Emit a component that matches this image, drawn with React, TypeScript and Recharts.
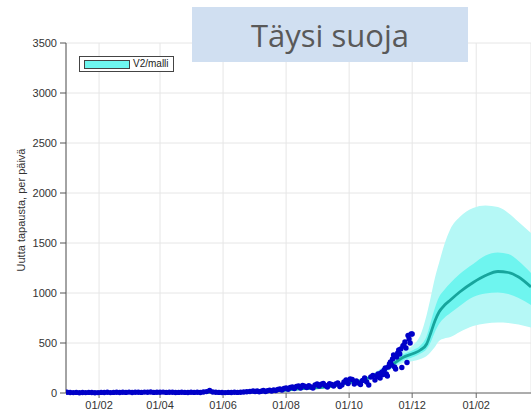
import React from 'react';
import { ComposedChart, Area, Line, Scatter, XAxis, YAxis, CartesianGrid, Label } from 'recharts';

const tickDays = [31, 90, 151, 212, 273, 334, 396];
const tickLabels = ['01/02', '01/04', '01/06', '01/08', '01/10', '01/12', '01/02'];
const yTicks = [0, 500, 1000, 1500, 2000, 2500, 3000, 3500];

const modelDays = [-1, 0, 30, 60, 90, 120, 150, 180, 196, 213, 229, 245, 261, 274, 287, 300, 313, 325, 335, 342, 348, 352, 356, 360, 365, 371, 380, 393, 405, 417, 427, 437, 449];
const modelMedian = [3, 3, 3, 4, 5, 6, 7, 10, 17, 30, 43, 53, 77, 105, 130, 190, 270, 355, 395, 430, 490, 600, 720, 810, 875, 930, 1010, 1105, 1175, 1215, 1205, 1160, 1060];
const outerLow = [3, 3, 3, 4, 5, 6, 7, 10, 16, 29, 41, 50, 72, 95, 115, 165, 235, 300, 320, 340, 370, 410, 460, 520, 545, 560, 610, 670, 695, 705, 700, 685, 655];
const outerHigh = [3, 3, 3, 4, 5, 6, 7, 10, 18, 31, 45, 56, 82, 118, 150, 220, 315, 420, 480, 580, 780, 960, 1150, 1300, 1480, 1640, 1760, 1850, 1875, 1860, 1800, 1710, 1600];
const innerLow = [3, 3, 3, 4, 5, 6, 7, 10, 17, 30, 42, 52, 75, 100, 122, 178, 250, 325, 360, 395, 440, 510, 610, 690, 750, 800, 870, 960, 995, 1005, 990, 950, 880];
const innerHigh = [3, 3, 3, 4, 5, 6, 7, 10, 17, 30, 44, 54, 79, 112, 140, 205, 292, 385, 430, 475, 570, 710, 850, 960, 1030, 1100, 1190, 1290, 1375, 1405, 1390, 1320, 1200];

const dotDays = [0, 3, 6, 9, 12, 15, 18, 21, 24, 27, 30, 33, 36, 39, 42, 45, 48, 51, 54, 57, 60, 63, 66, 69, 72, 75, 78, 81, 84, 87, 90, 93, 96, 99, 102, 105, 108, 111, 114, 117, 120, 123, 126, 129, 132, 135, 138, 141, 144, 147, 150, 153, 156, 159, 162, 165, 168, 171, 174, 177, 180,
  182, 184, 186, 188, 190, 192, 194, 196, 198, 200, 202, 204, 206, 208, 210, 212, 214, 216, 218, 220, 222, 224, 226, 228, 230, 232, 234, 236, 238, 240, 242, 244, 246, 248, 250, 252, 254, 256, 258, 260, 262, 264, 266, 268, 270, 272, 274, 276, 278, 280, 282, 284, 286, 288, 290, 292, 294, 296, 298,
  300, 301, 302, 303, 304, 305, 306, 307, 308, 309, 310, 311, 312, 313, 314, 315, 316, 317, 318, 319, 320, 321, 322, 323, 324, 325, 326, 327, 328, 329, 330, 331, 332, 333, 334];
const dotCases = [8, 5, 4, 6, 3, 5, 4, 6, 5, 3, 4, 6, 5, 7, 4, 6, 8, 5, 7, 6, 9, 5, 7, 8, 6, 9, 7, 10, 6, 8, 7, 9, 6, 8, 7, 5, 6, 8, 6, 5, 7, 6, 8, 5, 10, 14, 25, 10, 7, 6, 5, 4, 6, 5, 7, 6, 8, 10, 12, 15, 20,
  15, 20, 12, 18, 25, 15, 22, 28, 20, 30, 25, 35, 40, 30, 45, 50, 38, 55, 60, 45, 65, 70, 50, 75, 68, 55, 72, 60, 50, 80, 90, 70, 88, 95, 75, 60, 92, 85, 70, 90, 100, 65, 80, 110, 130, 95, 140, 135, 90, 120, 100, 85, 125, 150, 110, 80, 160, 175, 130,
  170, 190, 160, 150, 200, 210, 185, 230, 250, 190, 170, 260, 290, 310, 280, 340, 380, 260, 240, 360, 400, 430, 390, 440, 255, 470, 480, 510, 450, 305, 575, 540, 500, 590, 590];

const modelData = modelDays.map((d, i) => ({
  day: d,
  median: modelMedian[i],
  outer: [outerLow[i], outerHigh[i]],
  inner: [innerLow[i], innerHigh[i]],
}));
const dotData = dotDays.map((d, i) => ({ day: d, cases: dotCases[i] }));

const fmtX = (v: number) => {
  const i = tickDays.indexOf(v);
  return i >= 0 ? tickLabels[i] : '';
};

const Dot = (p: any) => <circle cx={p.cx} cy={p.cy} r={2.7} fill="#0000c8" />;

const YLabel = () => (
  <text x={22} y={210} transform="rotate(-90 22 210)" textAnchor="middle" dominantBaseline="middle"
    fontSize={11} fill="#333" fontFamily="'Liberation Sans', Arial, sans-serif">Uutta tapausta, per päivä</text>
);

export default function App() {
  return (
    <div style={{ position: 'absolute', left: 0, top: 0, width: 531, height: 414, overflow: 'hidden', background: '#fff' }}>
      <ComposedChart width={531} height={414} data={modelData} margin={{ top: 43, right: 0, bottom: 0, left: 0 }}>
        <CartesianGrid stroke="#e6e6e6" strokeWidth={1} />
        <XAxis dataKey="day" type="number" domain={[-1, 449]} ticks={tickDays} tickFormatter={fmtX}
          allowDataOverflow height={21} tickSize={5} tickMargin={3}
          stroke="#666" tick={{ fontSize: 11, fill: '#333', fontFamily: "'Liberation Sans', Arial, sans-serif" }} />
        <YAxis type="number" domain={[0, 3500]} ticks={yTicks} width={66} tickSize={6} tickMargin={3}
          stroke="#555" tick={{ fontSize: 11, fill: '#333', fontFamily: "'Liberation Sans', Arial, sans-serif" }}>
          <Label content={<YLabel />} />
        </YAxis>
        <Area type="monotone" dataKey="outer" stroke="none" fill="#b5f8f6" fillOpacity={1} isAnimationActive={false} />
        <Area type="monotone" dataKey="inner" stroke="none" fill="#6ef5ef" fillOpacity={1} isAnimationActive={false} />
        <Scatter data={dotData} dataKey="cases" shape={<Dot />} isAnimationActive={false} />
        <Line type="monotone" dataKey="median" stroke="#17a59d" strokeWidth={2.8} dot={false} isAnimationActive={false} />
      </ComposedChart>
      <div style={{ position: 'absolute', left: 79, top: 56, width: 95, height: 16, border: '1px solid #444', background: '#fff', boxSizing: 'border-box' }}>
        <div style={{ position: 'absolute', left: 4, top: 3, width: 46, height: 9, background: '#6ef7f0', border: '1px solid #444', boxSizing: 'border-box' }} />
        <div style={{ position: 'absolute', left: 53, top: 0, fontSize: 10, lineHeight: '14px', color: '#222', fontFamily: "'Liberation Sans', Arial, sans-serif" }}>V2/malli</div>
      </div>
      <div style={{ position: 'absolute', left: 192, top: 7, width: 276, height: 55, background: '#d0dff1', display: 'flex', alignItems: 'center', justifyContent: 'center' }}>
        <span style={{ fontSize: 31, color: '#595959', fontFamily: "'Open Sans', sans-serif" }}>Täysi suoja</span>
      </div>
    </div>
  );
}
